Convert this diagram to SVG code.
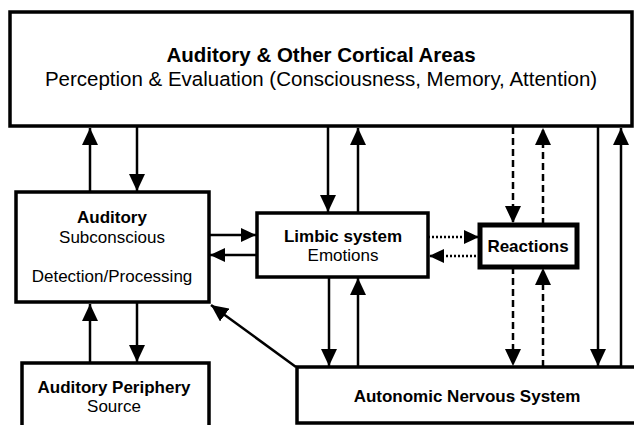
<svg xmlns="http://www.w3.org/2000/svg" width="634" height="425" viewBox="0 0 634 425">
<style>
.box{fill:#fff;stroke:#000;stroke-width:3.5}
.thick{stroke-width:5}
.ln{stroke:#000;stroke-width:2.5;fill:none;marker-end:url(#ah)}
.dash{stroke-dasharray:7 4}
.dot{stroke-dasharray:2 2;marker-end:url(#ahs)}
.side{marker-end:url(#ahs)}
text{font-family:"Liberation Sans",Arial,sans-serif;fill:#000;text-anchor:middle}
.b{font-weight:bold}
.t{font-size:20.5px}
.s{font-size:17px}
</style>
<defs>
<marker id="ah" markerUnits="userSpaceOnUse" markerWidth="18" markerHeight="16" refX="17" refY="8" orient="auto">
<path d="M0,0 L17,8 L0,16 z" fill="#000"/>
</marker>
<marker id="ahs" markerUnits="userSpaceOnUse" markerWidth="16" markerHeight="14" refX="15" refY="7" orient="auto">
<path d="M0,0 L15,7 L0,14 z" fill="#000"/>
</marker>
</defs>
<g id="cortical">
<rect class="box" x="10" y="12" width="622" height="114"/>
<text class="b t" x="321" y="62">Auditory &amp; Other Cortical Areas</text>
<text class="t" x="321" y="86">Perception &amp; Evaluation (Consciousness, Memory, Attention)</text>
</g>
<g id="auditory">
<rect class="box" x="16" y="192" width="193" height="110"/>
<text class="b s" x="112" y="223">Auditory</text>
<text class="s" x="112" y="243">Subconscious</text>
<text class="s" x="112" y="282">Detection/Processing</text>
</g>
<g id="limbic">
<rect class="box" x="257" y="213" width="171" height="64"/>
<text class="b s" x="343" y="242">Limbic system</text>
<text class="s" x="343" y="261">Emotions</text>
</g>
<g id="reactions">
<rect class="box thick" x="480" y="225" width="97" height="42"/>
<text class="b s" x="528" y="252">Reactions</text>
</g>
<g id="periphery">
<rect class="box" x="22" y="363" width="187" height="80"/>
<text class="b s" x="114" y="393">Auditory Periphery</text>
<text class="s" x="114" y="412">Source</text>
</g>
<g id="ans">
<rect class="box" x="297" y="367" width="360" height="56"/>
<text class="b s" x="467" y="402">Autonomic Nervous System</text>
</g>
<g id="connectors">
<line class="ln" x1="90" y1="192" x2="90" y2="128"/>
<line class="ln" x1="137" y1="127" x2="137" y2="191"/>
<line class="ln" x1="90" y1="363" x2="90" y2="304"/>
<line class="ln" x1="137" y1="303" x2="137" y2="362"/>
<line class="ln side" x1="209" y1="235" x2="256" y2="235"/>
<line class="ln side" x1="257" y1="255" x2="210" y2="255"/>
<line class="ln" x1="328" y1="127" x2="328" y2="212"/>
<line class="ln" x1="358" y1="213" x2="358" y2="128"/>
<line class="ln" x1="329" y1="277" x2="329" y2="366"/>
<line class="ln" x1="358" y1="367" x2="358" y2="278"/>
<line class="ln dot" x1="428" y1="237" x2="479" y2="237"/>
<line class="ln dot" x1="480" y1="256" x2="429" y2="256"/>
<line class="ln dash" x1="513" y1="127" x2="513" y2="223"/>
<line class="ln dash" x1="543" y1="225" x2="543" y2="128"/>
<line class="ln dash" x1="513" y1="267" x2="513" y2="366"/>
<line class="ln dash" x1="543" y1="367" x2="543" y2="268"/>
<line class="ln" x1="598" y1="127" x2="598" y2="366"/>
<line class="ln" x1="621" y1="367" x2="621" y2="128"/>
<line class="ln" x1="296" y1="367" x2="211" y2="305"/>
</g>
</svg>
